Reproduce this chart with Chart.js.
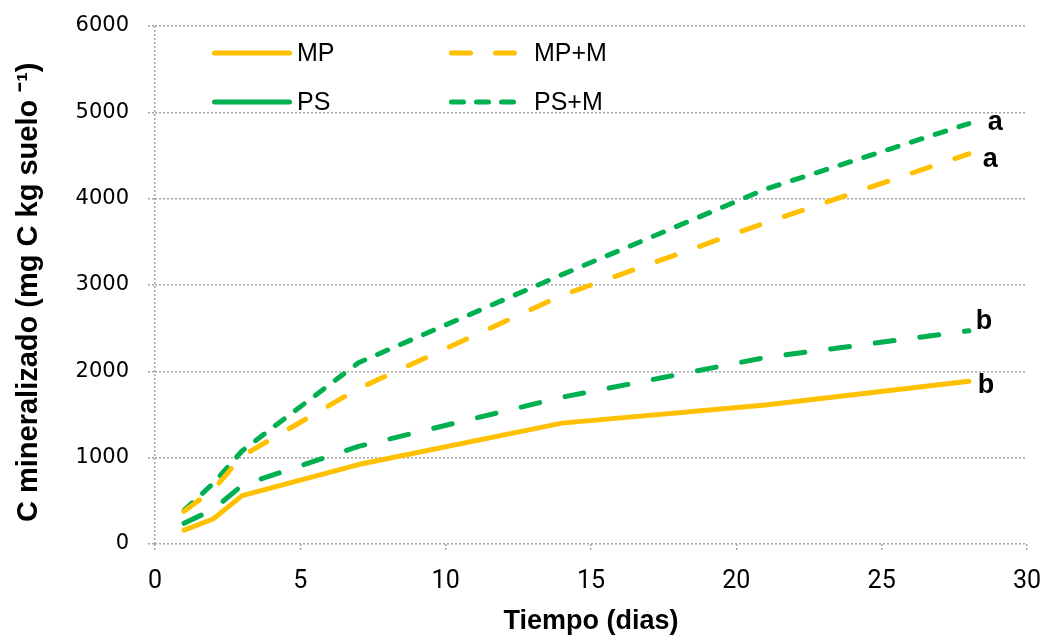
<!DOCTYPE html>
<html lang="es">
<head>
  <meta charset="UTF-8" />
  <title>C mineralizado</title>
  <script src="https://cdn.jsdelivr.net/npm/chart.js"></script>
  <style>
    body { margin: 0; background: #fff; }
    canvas { display: block; }
  </style>
</head>
<body>
<canvas id="chart" width="1044" height="638"></canvas>
<script>
  // days of incubation
  const days = [1, 2, 3, 7, 14, 21, 28];

  // C mineralizado (mg C kg suelo-1)
  const mp   = [160, 290, 560, 920, 1400, 1610, 1885];
  const mpM  = [380, 625, 1020, 1800, 2880, 3720, 4520];
  const ps   = [240, 400, 680, 1130, 1700, 2160, 2470];
  const psM  = [390, 700, 1080, 2100, 3120, 4110, 4870];

  const seriesNames = ['MP', 'MP+M', 'PS', 'PS+M'];
  const letters = ['b', 'a', 'b', 'a'];

  const yTicks = [0, 1000, 2000, 3000, 4000, 5000, 6000];
  const xTicks = [0, 5, 10, 15, 20, 25, 30];

  const YELLOW = '#FFC000';
  const GREEN = '#00B050';
  const GRID = '#a6a6a6';

  const pts = vals => days.map((d, i) => ({ x: d, y: vals[i] }));

  function line(label, vals, color, dash) {
    return {
      label: label,
      data: pts(vals),
      borderColor: color,
      backgroundColor: color,
      borderWidth: 5,
      borderDash: dash,
      borderCapStyle: 'round',
      borderJoinStyle: 'round',
      pointRadius: 0,
      tension: 0,
      fill: false
    };
  }

  // legend drawn inside the plot, 2 columns like the original
  const legendSpots = [
    { x: 212, y: 53, dash: [] },
    { x: 449, y: 53, dash: [19, 25] },
    { x: 212, y: 102, dash: [] },
    { x: 449, y: 102, dash: [12, 13] }
  ];
  const letterSpots = [
    { dx: 9, dy: 4 },
    { dx: 14, dy: 6 },
    { dx: 7, dy: -9 },
    { dx: 19, dy: -1 }
  ];

  const extras = {
    id: 'extras',
    afterDatasetsDraw(chart) {
      const ctx = chart.ctx;
      ctx.save();
      // legend
      chart.data.datasets.forEach((ds, i) => {
        const s = legendSpots[i];
        ctx.strokeStyle = ds.borderColor;
        ctx.lineWidth = 5;
        ctx.lineCap = 'round';
        ctx.setLineDash(s.dash);
        ctx.beginPath();
        ctx.moveTo(s.x + 2.5, s.y);
        ctx.lineTo(s.x + 77.5, s.y);
        ctx.stroke();
        ctx.setLineDash([]);
        ctx.fillStyle = '#000';
        ctx.font = '25px "Liberation Sans", Arial, sans-serif';
        ctx.textAlign = 'left';
        ctx.textBaseline = 'middle';
        ctx.fillText(ds.label, s.x + 85, s.y + 1);
      });
      // significance letters at the end of each line
      chart.data.datasets.forEach((ds, i) => {
        const meta = chart.getDatasetMeta(i);
        const p = meta.data[meta.data.length - 1];
        ctx.fillStyle = '#000';
        ctx.font = 'bold 27px "Liberation Sans", Arial, sans-serif';
        ctx.textAlign = 'left';
        ctx.textBaseline = 'middle';
        ctx.fillText(letters[i], p.x + letterSpots[i].dx, p.y + letterSpots[i].dy);
      });
      ctx.restore();
    }
  };

  new Chart(document.getElementById('chart'), {
    type: 'line',
    data: {
      datasets: [
        line(seriesNames[0], mp, YELLOW, []),
        line(seriesNames[1], mpM, YELLOW, [19, 26]),
        line(seriesNames[2], ps, GREEN, [19, 26]),
        line(seriesNames[3], psM, GREEN, [11, 14])
      ]
    },
    options: {
      responsive: false,
      animation: false,
      layout: { autoPadding: false, padding: { top: 26, right: 17, left: 0, bottom: 0 } },
      plugins: {
        legend: { display: false },
        tooltip: { enabled: false }
      },
      scales: {
        x: {
          type: 'linear',
          min: 0,
          max: 30,
          afterBuildTicks: s => { s.ticks = xTicks.map(v => ({ value: v })); },
          afterFit: s => {
            s.height = 94;
            s.paddingLeft = 0;
            s.paddingRight = 0;
          },
          border: { display: false, dash: [2, 2] },
          grid: {
            color: c => (c.tick && c.tick.value === 0 ? GRID : 'rgba(0,0,0,0)'),
            tickColor: GRID,
            tickLength: 7,
            tickBorderDash: [2, 2],
            lineWidth: 1.5
          },
          ticks: {
            color: '#000',
            padding: 16,
            maxRotation: 0,
            callback: v => String(v),
            font: { family: '"Liberation Sans Narrow", "Roboto", sans-serif', size: 25 }
          },
          title: {
            display: true,
            text: 'Tiempo (dias)',
            color: '#000',
            padding: { top: 0, bottom: 0 },
            font: { family: '"Liberation Sans", Arial, sans-serif', size: 27, weight: 'bold' }
          }
        },
        y: {
          min: 0,
          max: 6000,
          afterBuildTicks: s => { s.ticks = yTicks.map(v => ({ value: v })); },
          afterFit: s => {
            s.width = 155;
            s.paddingTop = 0;
            s.paddingBottom = 0;
          },
          border: { display: false, dash: [2, 2] },
          grid: {
            color: GRID,
            tickColor: GRID,
            tickLength: 7,
            tickBorderDash: [2, 2],
            lineWidth: 1.5
          },
          ticks: {
            color: '#000',
            padding: 19,
            callback: v => String(v),
            font: { family: '"DejaVu Sans", Verdana, sans-serif', size: 21 }
          },
          title: {
            display: true,
            text: 'C mineralizado (mg C kg suelo \u207B\u00B9)\u2002',
            color: '#000',
            padding: { top: 12, bottom: 0 },
            font: { family: '"Liberation Sans", Arial, sans-serif', size: 29, weight: 'bold' }
          }
        }
      }
    },
    plugins: [extras]
  });
</script>
</body>
</html>
